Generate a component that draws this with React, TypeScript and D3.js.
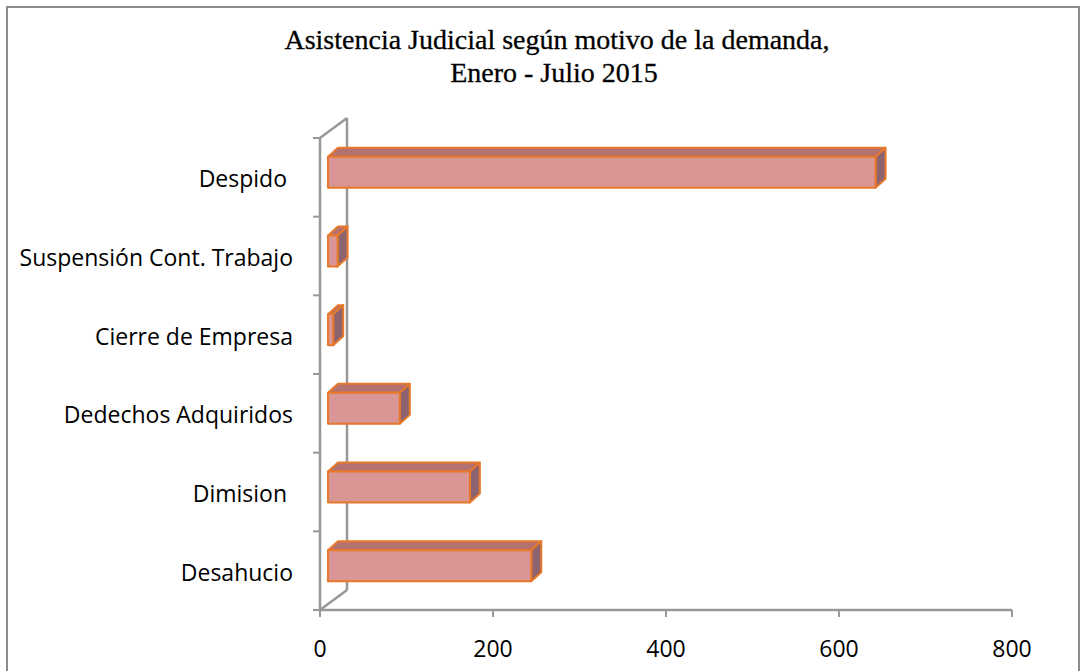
import React from "react";
import * as d3 from "d3";

const categories = [
  "Despido ",
  "Suspensión Cont. Trabajo",
  "Cierre de Empresa",
  "Dedechos Adquiridos",
  "Dimision ",
  "Desahucio",
];
const values = [633, 11, 6, 83, 164, 235];
const xTicks = [0, 200, 400, 600, 800];
const titleLines = ["Asistencia Judicial según motivo de la demanda,", "Enero - Julio 2015"];

export default function App() {
  const W = 1081;
  const H = 671;
  const x = d3.scaleLinear().domain([0, 800]).range([320, 1012]);
  const y = d3.scaleBand<string>().domain(categories).range([138, 610]);
  const wallDX = 27;
  const wallDY = -20;
  const barOffX = 8;
  const barOffY = -5;
  const dX = 10;
  const dY = -9;
  const barH = 31;
  const gray = "#989898";
  const labelFont = "'Open Sans', Lato, sans-serif";

  const boundaries = [...categories.map((c) => y(c)!), 610];

  return (
    <svg width={W} height={H} style={{ position: "absolute", left: 0, top: 0, background: "#fff" }}>
      <rect x={7} y={7} width={1072} height={700} fill="#fff" stroke="#8c8c8c" strokeWidth={2} />
      {titleLines.map((t, i) => (
        <text
          key={i}
          x={i === 0 ? 557 : 554}
          y={48.5 + i * 33.5}
          textAnchor="middle"
          fontFamily="'Liberation Serif', 'Times New Roman', serif"
          fontSize={28}
          fill="#000"
          stroke="#000"
          strokeWidth={0.3}
        >
          {t}
        </text>
      ))}
      {/* walls */}
      <line x1={x(0) + wallDX} y1={138 + wallDY} x2={x(0) + wallDX} y2={610 + wallDY} stroke={gray} strokeWidth={2.5} />
      <line x1={x(0)} y1={138} x2={x(0) + wallDX} y2={138 + wallDY} stroke={gray} strokeWidth={2.5} />
      <line x1={x(0)} y1={610} x2={x(0) + wallDX} y2={610 + wallDY} stroke={gray} strokeWidth={2.5} />
      <line x1={x(0)} y1={138} x2={x(0)} y2={610} stroke={gray} strokeWidth={2.5} />
      <line x1={x(0)} y1={610} x2={x(800)} y2={610} stroke={gray} strokeWidth={2.5} />
      {boundaries.map((b, i) => (
        <line key={i} x1={313} y1={b} x2={x(0)} y2={b} stroke={gray} strokeWidth={2} />
      ))}
      {xTicks.map((t) => (
        <line key={t} x1={x(t)} y1={610} x2={x(t)} y2={617} stroke={gray} strokeWidth={2} />
      ))}
      {xTicks.map((t) => (
        <text key={t} x={x(t)} y={657} textAnchor="middle" fontFamily={labelFont} fontSize={23} fill="#000">
          {t}
        </text>
      ))}
      {categories.map((c) => (
        <text
          key={c}
          x={293}
          y={y(c)! + y.bandwidth() / 2 + 10}
          textAnchor="end"
          fontFamily={labelFont}
          fontSize={23}
          fill="#000"
          style={{ whiteSpace: "pre" }}
        >
          {c}
        </text>
      ))}
      {/* bars */}
      {categories.map((c, i) => {
        const v = values[i];
        const x0 = x(0) + barOffX;
        const x1 = x(v) + barOffX;
        const cy = y(c)! + y.bandwidth() / 2 + barOffY;
        const y0 = cy - barH / 2;
        const y1 = cy + barH / 2;
        const top = `M${x0},${y0} L${x0 + dX},${y0 + dY} L${x1 + dX},${y0 + dY} L${x1},${y0} Z`;
        const side = `M${x1},${y0} L${x1 + dX},${y0 + dY} L${x1 + dX},${y1 + dY} L${x1},${y1} Z`;
        return (
          <g key={c} stroke="#E8782A" strokeWidth={2} strokeLinejoin="round">
            <path d={top} fill="#B3716F" />
            <path d={side} fill="#8E6370" />
            <rect x={x0} y={y0} width={x1 - x0} height={y1 - y0} fill="#D99694" />
          </g>
        );
      })}
    </svg>
  );
}
